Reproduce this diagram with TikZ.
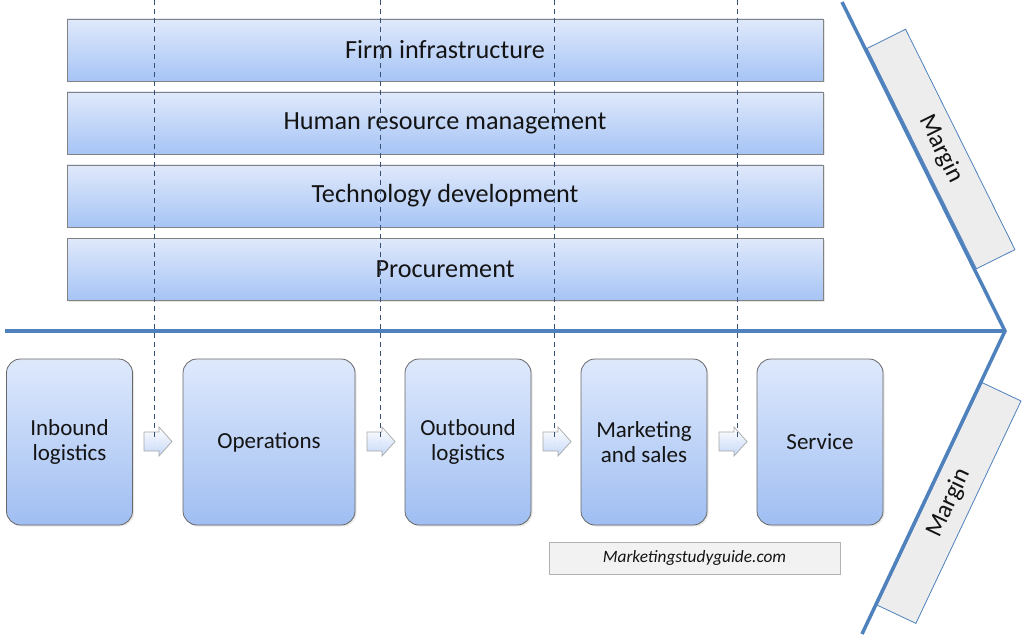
\documentclass[tikz,border=0pt]{standalone}
\usepackage{fontspec}
\setmainfont{Carlito}
\usetikzlibrary{shadows}
\definecolor{mainblue}{RGB}{79,129,189}
\definecolor{dashcol}{RGB}{55,80,120}
\definecolor{bartop}{RGB}{224,233,251}
\definecolor{barbot}{RGB}{166,196,245}
\definecolor{boxtop}{RGB}{222,233,252}
\definecolor{boxbot}{RGB}{160,190,242}
\definecolor{edgegray}{RGB}{130,130,130}
\definecolor{txt}{RGB}{20,20,20}
\tikzset{
  bar/.style={draw=edgegray, line width=0.8pt, top color=bartop, bottom color=barbot,
    minimum width=756pt, minimum height=62pt, inner sep=0pt, text=txt,
    font=\fontsize{26.2}{29}\selectfont,
    drop shadow={opacity=0.2, shadow xshift=1.5pt, shadow yshift=-1.5pt}},
  actbox/.style={draw=edgegray!80!black, line width=0.8pt, rounded corners=14pt,
    top color=boxtop, bottom color=boxbot, minimum height=166pt, inner sep=0pt,
    text=txt, align=center, font=\fontsize{23}{25}\selectfont,
    drop shadow={opacity=0.2, shadow xshift=1.5pt, shadow yshift=-1.5pt}},
  marginbox/.style={draw=mainblue, line width=0.8pt, fill=black!7,
    minimum width=246pt, minimum height=43pt, inner sep=0pt, text=txt,
    font=\fontsize{25}{28}\selectfont},
  mainline/.style={draw=mainblue, line width=3.5pt},
  dashline/.style={draw=dashcol, line width=1pt, dash pattern=on 5pt off 4pt},
  blockarrow/.style={draw=edgegray!70, line width=0.7pt, top color=white, bottom color=boxtop!60!boxbot}
}
\begin{document}
\begin{tikzpicture}[x=1pt,y=-1pt]
\useasboundingbox (0,0) rectangle (1024,636);

% support activity bars
\node[bar] (fi) at (445,50) {Firm infrastructure};
\node[bar] (hr) at (445,123) {Human resource management};
\node[bar] (td) at (445,196) {Technology development};
\node[bar] (pr) at (445,269) {Procurement};

% margin boxes
\node[marginbox, rotate=-63.6] (m1) at (941,149) {Margin};
\node[marginbox, rotate=64.7] (m2) at (949,503) {Margin};

% main chevron line
\coordinate (hl) at (5,331);
\coordinate (tip) at (1005,331);
\coordinate (top) at (842,2);
\coordinate (bot) at (862,634);
\draw[mainline, line join=miter] (hl) -- (tip);
\draw[mainline, line join=miter] (top) -- (tip) -- (bot);

% primary activity boxes
\node[actbox, minimum width=126pt] (ib) at (69.5,442) {Inbound\\logistics};
\node[actbox, minimum width=172pt] (op) at (269,442) {Operations};
\node[actbox, minimum width=126pt] (ob) at (468,442) {Outbound\\logistics};
\node[actbox, minimum width=126pt] (ms) at (644,442) {Marketing\\and sales};
\node[actbox, minimum width=126pt] (sv) at (820,442) {Service};

% block arrows
\foreach \cx in {158,381,557,733}{
  \draw[blockarrow] (\cx-14,432) -- (\cx+1,432) -- (\cx+1,427) -- (\cx+14,441.5)
    -- (\cx+1,456) -- (\cx+1,451) -- (\cx-14,451) -- cycle;
}

% dashed lines
\foreach \dx/\nm in {154/a,380/b,554/c,737/d}{
  \coordinate (d\nm1) at (\dx,0);
  \coordinate (d\nm2) at (\dx,441);
  \draw[dashline] (d\nm1) -- (d\nm2);
}

% watermark
\node[draw=black!30, fill=black!5, line width=0.6pt, minimum width=291pt, minimum height=32pt,
  inner sep=0pt, font=\fontsize{17.3}{19}\selectfont\itshape, text=txt] (wm) at (694.5,558) {Marketingstudyguide.com};
\end{tikzpicture}
\end{document}
